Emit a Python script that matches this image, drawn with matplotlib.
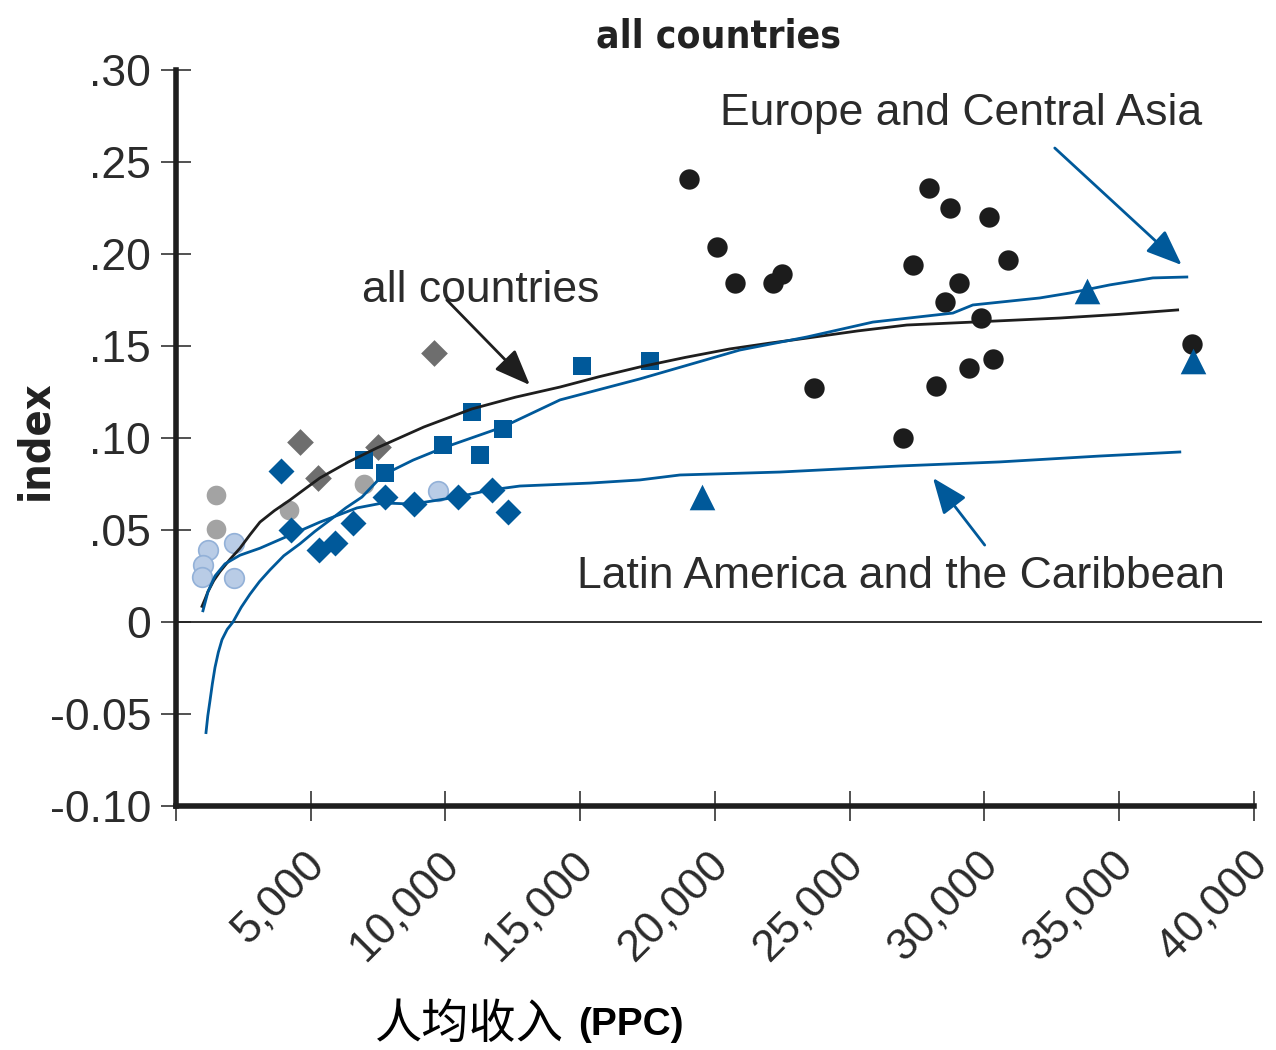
import matplotlib
matplotlib.use("Agg")
import matplotlib.pyplot as plt
import matplotlib.transforms as mtransforms
from matplotlib import font_manager

plt.rcParams['font.family'] = ['Liberation Sans', 'DejaVu Sans']

BLUE = '#00599a'
TXT = '#2b2b2b'

# --- data (income per capita PPP, index) ---
black_x = [19030, 20070, 20740, 22150, 22480, 23670, 26970, 27340, 27940, 28200,
           28530, 28720, 29050, 29420, 29870, 30160, 30310, 30870, 37690]
black_y = [0.241, 0.204, 0.184, 0.184, 0.189, 0.127, 0.100, 0.194, 0.236, 0.128,
           0.174, 0.225, 0.184, 0.138, 0.165, 0.220, 0.143, 0.197, 0.151]

tri_x = [19515, 33800, 37730]
tri_y = [0.068, 0.180, 0.142]

sq_x = [15060, 17590, 10980, 12130, 9910, 11280, 6975, 7750]
sq_y = [0.139, 0.142, 0.114, 0.105, 0.096, 0.091, 0.088, 0.081]

dia_x = [3900, 4270, 5300, 5900, 6570, 7750, 8830, 10460, 11720, 12320]
dia_y = [0.082, 0.050, 0.039, 0.043, 0.054, 0.068, 0.064, 0.068, 0.072, 0.060]

gdia_x = [9570, 4600, 5270, 7490]
gdia_y = [0.146, 0.098, 0.078, 0.095]

gcirc_x = [1480, 1480, 4190, 6975]
gcirc_y = [0.069, 0.0505, 0.061, 0.075]

lcirc_x = [1190, 1000, 965, 2150, 2150, 9720]
lcirc_y = [0.039, 0.031, 0.0245, 0.043, 0.024, 0.071]

# fitted curves
all_x = [965, 1080, 1187, 1400, 1632, 2000, 2374, 2750, 3116, 3650, 4229, 4800,
         5342, 6400, 7457, 9200, 10980, 12600, 14250, 15700, 17210, 18900, 20550,
         22000, 23410, 25300, 27120, 29570, 32800, 35000, 37170]
all_y = [0.0085, 0.0125, 0.0165, 0.0225, 0.0274, 0.0340, 0.0401, 0.0475, 0.0543,
         0.0605, 0.0663, 0.0725, 0.0783, 0.0870, 0.0946, 0.1060, 0.1158, 0.1222,
         0.1277, 0.1333, 0.1386, 0.1438, 0.1484, 0.1515, 0.1543, 0.1582, 0.1614,
         0.1630, 0.1652, 0.1672, 0.1696]

lac_x = [1000, 1187, 1447, 1818, 2374, 3116, 4229, 5342, 6715, 7680, 8790, 10425,
         11650, 12760, 15360, 17210, 18700, 22410, 26860, 30570, 34280, 37250]
lac_y = [0.0061, 0.0165, 0.0250, 0.0316, 0.0363, 0.0401, 0.0472, 0.0543, 0.0620,
         0.0647, 0.0641, 0.0679, 0.0717, 0.0739, 0.0755, 0.0772, 0.0799, 0.0815,
         0.0848, 0.0870, 0.0902, 0.0924]

eca_x = [1113, 1180, 1261, 1350, 1447, 1570, 1707, 1900, 2115, 2420, 2745, 3100,
         3487, 4000, 4600, 5150, 5713, 6300, 6900, 7680, 8800, 9906, 12130, 14250,
         17210, 20920, 23410, 25860, 28830, 29570, 32050, 33170, 34650, 36250, 37510]
eca_y = [-0.0601, -0.0510, -0.0428, -0.0335, -0.0247, -0.0165, -0.0096, -0.0040,
         0.0, 0.0080, 0.0151, 0.0220, 0.0283, 0.0360, 0.0425, 0.0492, 0.0554, 0.0620,
         0.0679, 0.0799, 0.0880, 0.0946, 0.1060, 0.1207, 0.1321, 0.1478, 0.1549,
         0.1630, 0.1679, 0.1723, 0.1761, 0.1788, 0.1832, 0.1870, 0.1875]

xticks = [5000, 10000, 15000, 20000, 25000, 30000, 35000, 40000]
xlabels = ['5,000', '10,000', '15,000', '20,000', '25,000', '30,000', '35,000', '40,000']
yticks = [-0.10, -0.05, 0.0, 0.05, 0.10, 0.15, 0.20, 0.25, 0.30]
ylabels = ['-0.10', '-0.05', '0', '.05', '.10', '.15', '.20', '.25', '.30']

fig = plt.figure(figsize=(12.76, 10.5), dpi=100)
ax = fig.add_axes([176/1276, 244/1050, 1086/1276, 736/1050])

ax.scatter(lcirc_x, lcirc_y, s=200, marker='o', facecolor='#b9cce6', edgecolor='#93b1d8', lw=1.2, zorder=2)
ax.scatter(gcirc_x, gcirc_y, s=200, marker='o', color='#a3a3a3', lw=0, zorder=2)
ax.scatter(gdia_x, gdia_y, s=185, marker='D', color='#6e6e6e', lw=0, zorder=2)
ax.scatter(dia_x, dia_y, s=175, marker='D', color=BLUE, lw=0, zorder=2)
ax.scatter(sq_x, sq_y, s=170, marker='s', color=BLUE, lw=0, zorder=2)
ax.scatter(black_x, black_y, s=215, marker='o', color='#1c1c1c', lw=0, zorder=2)
ax.scatter(tri_x, tri_y, s=340, marker='^', color=BLUE, lw=0, zorder=2)

ax.plot(all_x, all_y, color='#1e1e1e', lw=2, zorder=3)
ax.plot(lac_x, lac_y, color=BLUE, lw=2, zorder=3)
ax.plot(eca_x, eca_y, color=BLUE, lw=2, zorder=3)

ax.axhline(0, color='#222222', lw=1.3, zorder=1)

ax.set_xlim(0, 40300)
ax.set_ylim(-0.10, 0.30)
for s in ['top', 'right']:
    ax.spines[s].set_visible(False)
for s in ['left', 'bottom']:
    ax.spines[s].set_linewidth(4)
    ax.spines[s].set_color('#1e1e1e')
ax.spines['bottom'].set_bounds(0, 40000)

ax.set_xticks([0] + xticks)
ax.set_xticklabels([''] + xlabels, rotation=45, ha='right', va='top')
ax.set_yticks(yticks)
ax.set_yticklabels(ylabels)
ax.tick_params(direction='inout', length=22, width=1.1, color='#222222',
               labelsize=32, labelcolor=TXT)
ax.tick_params(axis='x', pad=16)
ax.tick_params(axis='y', pad=7)
offset = mtransforms.ScaledTranslation(15.5/72, 0, fig.dpi_scale_trans)
for lab in ax.get_xticklabels():
    lab.set_transform(lab.get_transform() + offset)

bold_narrow = font_manager.FontProperties(family='DejaVu Sans', stretch='condensed',
                                          weight='bold', size=28)
ax.set_title('all countries', fontproperties=bold_narrow, color='#222222', pad=16)
idx_font = bold_narrow.copy()
idx_font.set_size(31)
fig.text(35/1276, 1 - 440/1050, 'index', rotation=90, ha='center', va='center',
         fontproperties=idx_font, color='#222222')

fig.text(375/1276, 1 - 1025/1050, '人均收入', ha='left', va='center', fontsize=34,
         family=['Noto Sans CJK SC', 'DejaVu Sans'], color='black')
fig.text(578/1276, 1 - 1025/1050, '(PPC)', ha='left', va='center', fontsize=28,
         fontweight='bold', family=['Liberation Sans', 'DejaVu Sans'], color='black')

# annotations
arrow_kw = dict(arrowstyle='-|>,head_length=1.0,head_width=0.4', mutation_scale=22,
                lw=2, shrinkA=0, shrinkB=0)
ax.text(20180, 0.2766, 'Europe and Central Asia', fontsize=32, color=TXT, ha='left', va='center')
ax.annotate('', xy=(37320, 0.1940), xytext=(32610, 0.2576),
            arrowprops=dict(color=BLUE, **arrow_kw))
ax.text(6900, 0.1804, 'all countries', fontsize=32, color=TXT, ha='left', va='center')
ax.annotate('', xy=(13130, 0.1288), xytext=(10050, 0.175),
            arrowprops=dict(color='#1e1e1e', **arrow_kw))
ax.text(14880, 0.0250, 'Latin America and the Caribbean', fontsize=32, color=TXT,
        ha='left', va='center')
ax.annotate('', xy=(28090, 0.0783), xytext=(30010, 0.0418),
            arrowprops=dict(color=BLUE, **arrow_kw))

fig.savefig('out.png', dpi=100)
